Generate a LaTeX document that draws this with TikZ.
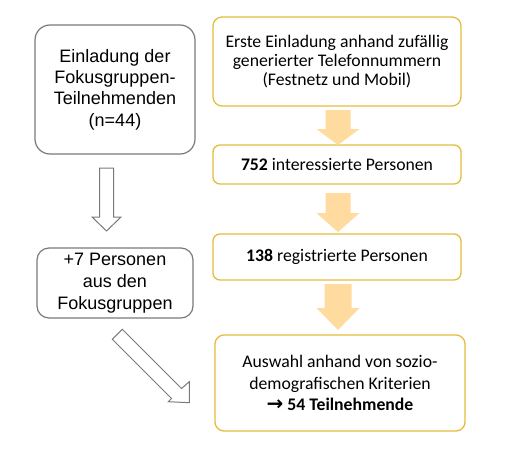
\documentclass[tikz,border=0pt]{standalone}
\usepackage{fontspec}
\usetikzlibrary{calc}
\newfontfamily\arialf{Liberation Sans}
\newfontfamily\calf{Carlito}
\newfontfamily\symf{DejaVu Sans}
\definecolor{goldline}{HTML}{E6BC3C}
\definecolor{grayline}{HTML}{7A7A7A}
\definecolor{orangefill}{HTML}{FFDBA0}
\newcommand\blockdown[6]{%
  \draw[#1] let \p1=(#2), \p2=(#3) in
   (\x1-#4,\y1) -- (\x1+#4,\y1) -- (\x1+#4,\y2+#6) -- (\x1+#5,\y2+#6) -- (\x1,\y2)
   -- (\x1-#5,\y2+#6) -- (\x1-#4,\y2+#6) -- cycle;}
\begin{document}
\begin{tikzpicture}[x=1pt,y=-1pt,
  graybox/.style={draw=grayline,line width=1.2pt,rounded corners=15pt,fill=white,
    inner sep=0pt,outer sep=0pt,align=center,font=\arialf\fontsize{18}{21.3}\selectfont},
  goldbox/.style={draw=goldline,line width=1.3pt,rounded corners=9pt,fill=white,
    inner sep=0pt,outer sep=0pt,align=center,font=\calf\fontsize{17.7}{19.3}\selectfont},
  oarrow/.style={fill=orangefill,draw=none},
  garrow/.style={fill=white,draw=grayline,line width=1pt,line join=miter}]
\useasboundingbox[fill=white] (0,0) rectangle (532,458);
% left boxes
\node[graybox,minimum width=160pt,minimum height=129pt] (L1) at (115,89.5)
  {Einladung der\\Fokusgruppen-\\Teilnehmenden\\(n=44)};
\node[graybox,minimum width=156pt,minimum height=70pt,rounded corners=12pt,
  font=\arialf\fontsize{18}{22}\selectfont] (L2) at (115,283)
  {+7 Personen\\aus den\\Fokusgruppen};
% right boxes
\node[goldbox,minimum width=248pt,minimum height=89pt] (R1) at (337,61.5)
  {Erste Einladung anhand zufällig\\generierter Telefonnummern\\(Festnetz und Mobil)};
\node[goldbox,minimum width=248pt,minimum height=39pt,rounded corners=7pt] (R2) at (337,164.5)
  {\textbf{752} interessierte Personen};
\node[goldbox,minimum width=248pt,minimum height=46pt,rounded corners=7pt] (R3) at (337,257)
  {\textbf{138} registrierte Personen};
\node[goldbox,minimum width=250pt,minimum height=96pt,
  font=\calf\fontsize{17.7}{21.3}\selectfont] (R4) at (340,383)
  {Auswahl anhand von sozio-\\demografischen Kriterien\\\textbf{{\symf\fontsize{20}{20}\selectfont→} 54 Teilnehmende}};
% orange block arrows
\blockdown{oarrow}{$(R1.south)+(1,4)$}{$(R2.north)+(1,0)$}{12.5pt}{21.5pt}{16pt}
\blockdown{oarrow}{$(R2.south)+(1,9)$}{$(R3.north)+(1,-2)$}{12.5pt}{21.5pt}{19pt}
\blockdown{oarrow}{$(R3.south)+(1,4)$}{$(R4.north)+(-1.5,-5)$}{13.5pt}{21.5pt}{22pt}
% gray block arrows
\blockdown{garrow}{$(L1.south)+(-8.5,14)$}{$(L2.north)+(-8.5,-17)$}{7pt}{14.5pt}{14pt}
\draw[garrow] (112.3,339.3) -- (171.5,398.5) -- (168.3,401.7) -- (189.3,402.7)
  -- (189.3,381.7) -- (181.5,388.5) -- (122.3,329.3) -- cycle;
\end{tikzpicture}
\end{document}
